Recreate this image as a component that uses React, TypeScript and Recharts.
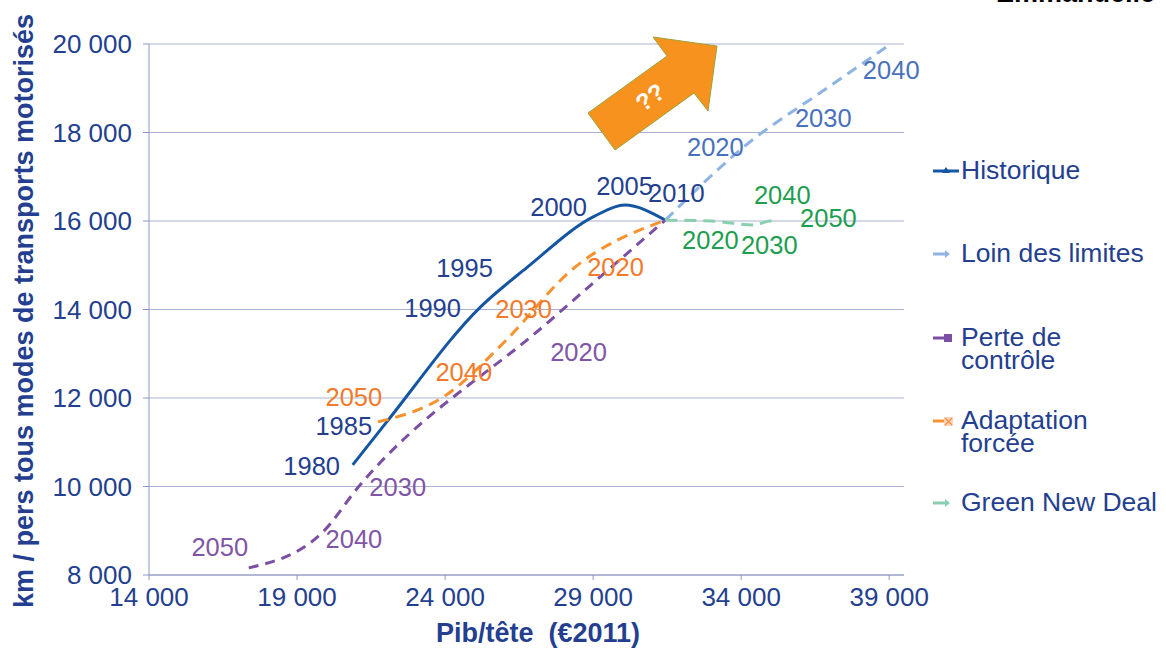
import React from "react";
import { CartesianGrid, LabelList, Line, LineChart, XAxis, YAxis } from "recharts";

const FONT = "'Liberation Sans', Arial, sans-serif";
const NAVY = "#243F8F";

const xTicks = [14000, 19000, 24000, 29000, 34000, 39000];
const yTicks = [8000, 10000, 12000, 14000, 16000, 18000, 20000];

// Historique
const histYears = [1980, 1985, 1990, 1995, 2000, 2005, 2010];
const histGdp = [20880, 22030, 25200, 26750, 29050, 30060, 31440];
const histKm = [10490, 11460, 14060, 14940, 16110, 16360, 16020];

// Loin des limites
const loinYears = [2010, 2020, 2030, 2040];
const loinGdp = [31440, 34210, 36740, 39440];
const loinKm = [16020, 17740, 18930, 20180];

// Perte de contrôle (sorted by gdp)
const perteYears = [2050, 2040, 2030, 2020, 2010];
const perteGdp = [17370, 19840, 21050, 27460, 31440];
const perteKm = [8160, 8950, 9970, 13700, 16020];

// Adaptation forcée (sorted by gdp)
const adaptYears = [2050, 2040, 2030, 2020, 2010];
const adaptGdp = [21730, 23990, 26010, 28270, 31440];
const adaptKm = [11460, 12045, 13270, 14890, 16020];

// Green New Deal
const gndYears = [2010, 2020, 2030, 2040, 2050];
const gndGdp = [31440, 32995, 34410, 34950, 35190];
const gndKm = [16020, 16000, 15910, 16000, 16020];

// where each year label sits relative to its point (px)
const histShift: Record<number, [number, number]> = {
  1980: [-41, 1], 1985: [-43, 4], 1990: [-48, 1], 1995: [-62, 0],
  2000: [-36, -9], 2005: [0, -19], 2010: [11, -27],
};
const loinShift: Record<number, [number, number]> = { 2020: [-32, 3], 2030: [1, 27], 2040: [-11, 34] };
const perteShift: Record<number, [number, number]> = { 2020: [31, 29], 2030: [40, -1], 2040: [32, 6], 2050: [-29, -21] };
const adaptShift: Record<number, [number, number]> = { 2020: [44, -3], 2030: [19, -33], 2040: [19, -24], 2050: [-24, -25] };
const gndShift: Record<number, [number, number]> = { 2020: [-1, 19], 2030: [16, 20], 2040: [13, -26], 2050: [52, -2] };

type Pt = { year: number; gdp: number; km: number };
const toPoints = (years: number[], gdp: number[], km: number[]): Pt[] =>
  years.map((year, i) => ({ year, gdp: gdp[i], km: km[i] }));

const hist = toPoints(histYears, histGdp, histKm);
const loin = toPoints(loinYears, loinGdp, loinKm);
const perte = toPoints(perteYears, perteGdp, perteKm);
const adapt = toPoints(adaptYears, adaptGdp, adaptKm);
const gnd = toPoints(gndYears, gndGdp, gndKm);

const fmt = (v: number) => `${Math.floor(v / 1000)} ${String(v % 1000).padStart(3, "0")}`;

const yearLabel = (shift: Record<number, [number, number]>, color: string) => (props: any) => {
  const s = shift[props.value];
  if (!s) return null;
  return (
    <text
      x={props.x + s[0]}
      y={props.y + s[1]}
      fill={color}
      fontSize={25.5}
      fontFamily={FONT}
      textAnchor="middle"
      dominantBaseline="central"
    >
      {props.value}
    </text>
  );
};

const legendItems = [
  { lines: ["Historique"], color: "#1556A3", y: 171, marker: "tri" },
  { lines: ["Loin des limites"], color: "#8DB4E2", y: 254, marker: "dot" },
  { lines: ["Perte de", "contrôle"], color: "#7B4FA3", y: 338, marker: "square" },
  { lines: ["Adaptation", "forcée"], color: "#F7922E", y: 421, marker: "cross" },
  { lines: ["Green New Deal"], color: "#8ACFB0", y: 503, marker: "dot" },
];

function LegendMarker({ color, marker }: { color: string; marker: string }) {
  return (
    <svg width={28} height={14} style={{ position: "absolute", left: 932, top: -7 }}>
      {marker === "tri" ? (
        <>
          <line x1={1} y1={7} x2={27} y2={7} stroke={color} strokeWidth={3} />
          <polygon points="10,9 14,3 18,9" fill={color} />
        </>
      ) : marker === "square" ? (
        <>
          <line x1={1} y1={7} x2={13} y2={7} stroke={color} strokeWidth={3} />
          <rect x={12} y={3} width={8} height={8} fill={color} />
        </>
      ) : marker === "cross" ? (
        <>
          <line x1={1} y1={7} x2={13} y2={7} stroke={color} strokeWidth={3} />
          <rect x={12} y={3} width={9} height={9} fill="#FBD3C4" />
          <path d="M13 4 L20 11 M20 4 L13 11" stroke={color} strokeWidth={1.2} />
        </>
      ) : (
        <>
          <line x1={1} y1={7} x2={14} y2={7} stroke={color} strokeWidth={3} />
          <polygon points="13,3 18,7 13,11" fill={color} />
        </>
      )}
    </svg>
  );
}

export default function App() {
  return (
    <div
      style={{
        position: "absolute",
        left: 0,
        top: 0,
        width: 1166,
        height: 648,
        overflow: "hidden",
        background: "#fff",
        fontFamily: FONT,
      }}
    >
      <LineChart width={1166} height={648} margin={{ top: 44, right: 262, bottom: 0, left: 0 }}>
        <CartesianGrid stroke="#A9B1D0" vertical={false} />
        <XAxis
          dataKey="gdp"
          type="number"
          domain={[14000, 39500]}
          ticks={xTicks}
          allowDataOverflow
          height={73}
          tickFormatter={fmt}
          tick={{ fill: NAVY, fontSize: 26, fontFamily: FONT }}
          tickSize={5}
          tickMargin={8}
          stroke="#8D98BF"
          label={{
            value: "Pib/tête\u00a0 (€2011)",
            content: (p: any) => (
              <text x={538} y={642} textAnchor="middle" fill={NAVY} fontSize={27} fontWeight="bold" fontFamily={FONT}>
                {p.value}
              </text>
            ),
          }}
        />
        <YAxis
          type="number"
          domain={[8000, 20000]}
          ticks={yTicks}
          allowDataOverflow
          width={149}
          tickFormatter={fmt}
          tick={{ fill: NAVY, fontSize: 26, fontFamily: FONT }}
          tickSize={6}
          tickMargin={11}
          stroke="#8D98BF"
          label={{
            value: "km / pers tous modes de transports motorisés",
            content: (p: any) => (
              <text
                x={33}
                y={311}
                transform="rotate(-90 33 311)"
                textAnchor="middle"
                fill={NAVY}
                fontSize={27}
                fontWeight="bold"
                fontFamily={FONT}
              >
                {p.value}
              </text>
            ),
          }}
        />
        <Line data={hist} dataKey="km" type="monotone" stroke="#1556A3" strokeWidth={3} dot={false} activeDot={false} isAnimationActive={false}>
          <LabelList dataKey="year" content={yearLabel(histShift, NAVY)} />
        </Line>
        <Line data={loin} dataKey="km" type="monotone" stroke="#8DB4E2" strokeWidth={3} strokeDasharray="11 7" dot={false} activeDot={false} isAnimationActive={false}>
          <LabelList dataKey="year" content={yearLabel(loinShift, "#4A72BC")} />
        </Line>
        <Line data={perte} dataKey="km" type="monotone" stroke="#7B4FA3" strokeWidth={3} strokeDasharray="10 7" dot={false} activeDot={false} isAnimationActive={false}>
          <LabelList dataKey="year" content={yearLabel(perteShift, "#7F56A6")} />
        </Line>
        <Line data={adapt} dataKey="km" type="monotone" stroke="#F7922E" strokeWidth={3} strokeDasharray="11 7" dot={false} activeDot={false} isAnimationActive={false}>
          <LabelList dataKey="year" content={yearLabel(adaptShift, "#F27A2B")} />
        </Line>
        <Line data={gnd} dataKey="km" type="monotone" stroke="#8ACFB0" strokeWidth={3} strokeDasharray="12 7" dot={false} activeDot={false} isAnimationActive={false}>
          <LabelList dataKey="year" content={yearLabel(gndShift, "#1E9E4F")} />
        </Line>
      </LineChart>

      {/* orange "??" arrow annotation */}
      <svg width={1166} height={648} style={{ position: "absolute", left: 0, top: 0, pointerEvents: "none" }}>
        <polygon
          points="588,113 667,56 653,37 717,46 708,111 694,93 615,150"
          fill="#F7921E"
          stroke="#9AA33A"
          strokeWidth={1}
        />
        <text
          x={650}
          y={97}
          transform="rotate(-36 650 97)"
          textAnchor="middle"
          dominantBaseline="central"
          fill="#fff"
          fontSize={24}
          fontWeight="bold"
          fontFamily={FONT}
        >
          ??
        </text>
      </svg>

      <div style={{ position: "absolute", left: 996, top: -22, fontSize: 27, fontWeight: "bold", color: "#000" }}>
        Emmanuelle
      </div>

      {legendItems.map((it) => (
        <div key={it.lines[0]} style={{ position: "absolute", left: 0, top: it.y, width: 1166 }}>
          <LegendMarker color={it.color} marker={it.marker} />
          <div
            style={{
              position: "absolute",
              left: 961,
              top: -12,
              fontSize: 26.5,
              lineHeight: "23px",
              color: NAVY,
              whiteSpace: "nowrap",
            }}
          >
            {it.lines.map((l) => (
              <div key={l} style={{ height: 23 }}>
                {l}
              </div>
            ))}
          </div>
        </div>
      ))}
    </div>
  );
}
